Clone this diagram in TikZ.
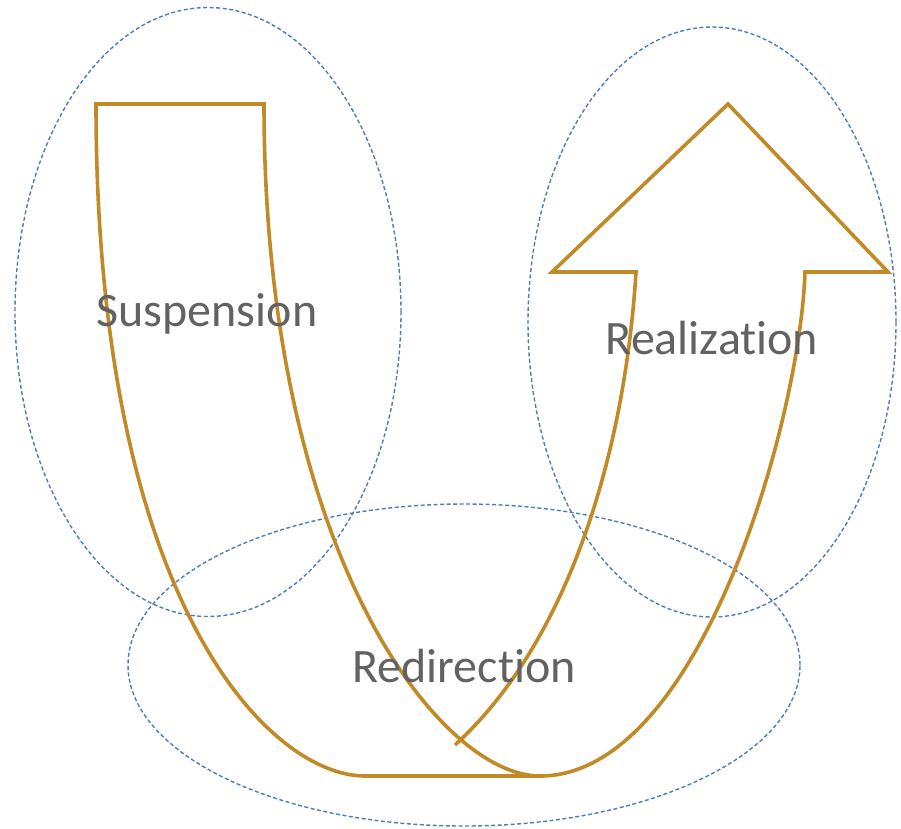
\documentclass[tikz,border=0pt]{standalone}
\usepackage{fontspec}
\setmainfont{Carlito}[Ligatures=NoCommon]
\usetikzlibrary{shapes.geometric}
\definecolor{uturn}{RGB}{193,138,38}
\definecolor{zoneblue}{RGB}{74,124,192}
\definecolor{labelgray}{RGB}{98,98,98}
\begin{document}
\begin{tikzpicture}[x=1pt,y=-1pt,line join=miter]
  \tikzset{zone/.style={ellipse,draw=zoneblue,line width=1.4pt,dash pattern=on 4pt off 2.5pt,inner sep=0pt},
           phase/.style={text=labelgray,font=\fontsize{48}{52}\selectfont,inner sep=0pt}}
  \useasboundingbox (0,0) rectangle (901,828);

  \node[zone,minimum width=386pt,minimum height=609pt] (suszone) at (208,312) {};
  \node[zone,minimum width=368pt,minimum height=590pt] (realzone) at (712,322) {};
  \node[zone,minimum width=672pt,minimum height=322pt] (redzone) at (464,665) {};

  \draw[uturn,line width=3.6pt]
    (540,776) -- (365,776) .. controls (270,776) and (96,604) .. (96,104)
    -- (264,104) .. controls (264,554) and (440,776) .. (540,776)
    .. controls (700,776) and (800,420) .. (805,272)
    -- (888,272) -- (728,104) -- (552,272) -- (636,272)
    .. controls (625,450) and (570,640) .. (455,745);

  \node[phase] (suspension) at (207,314) {Suspension};
  \node[phase] (realization) at (712,338) {Realization};
  \node[phase] (redirection) at (464,666) {Redirection};
\end{tikzpicture}
\end{document}
